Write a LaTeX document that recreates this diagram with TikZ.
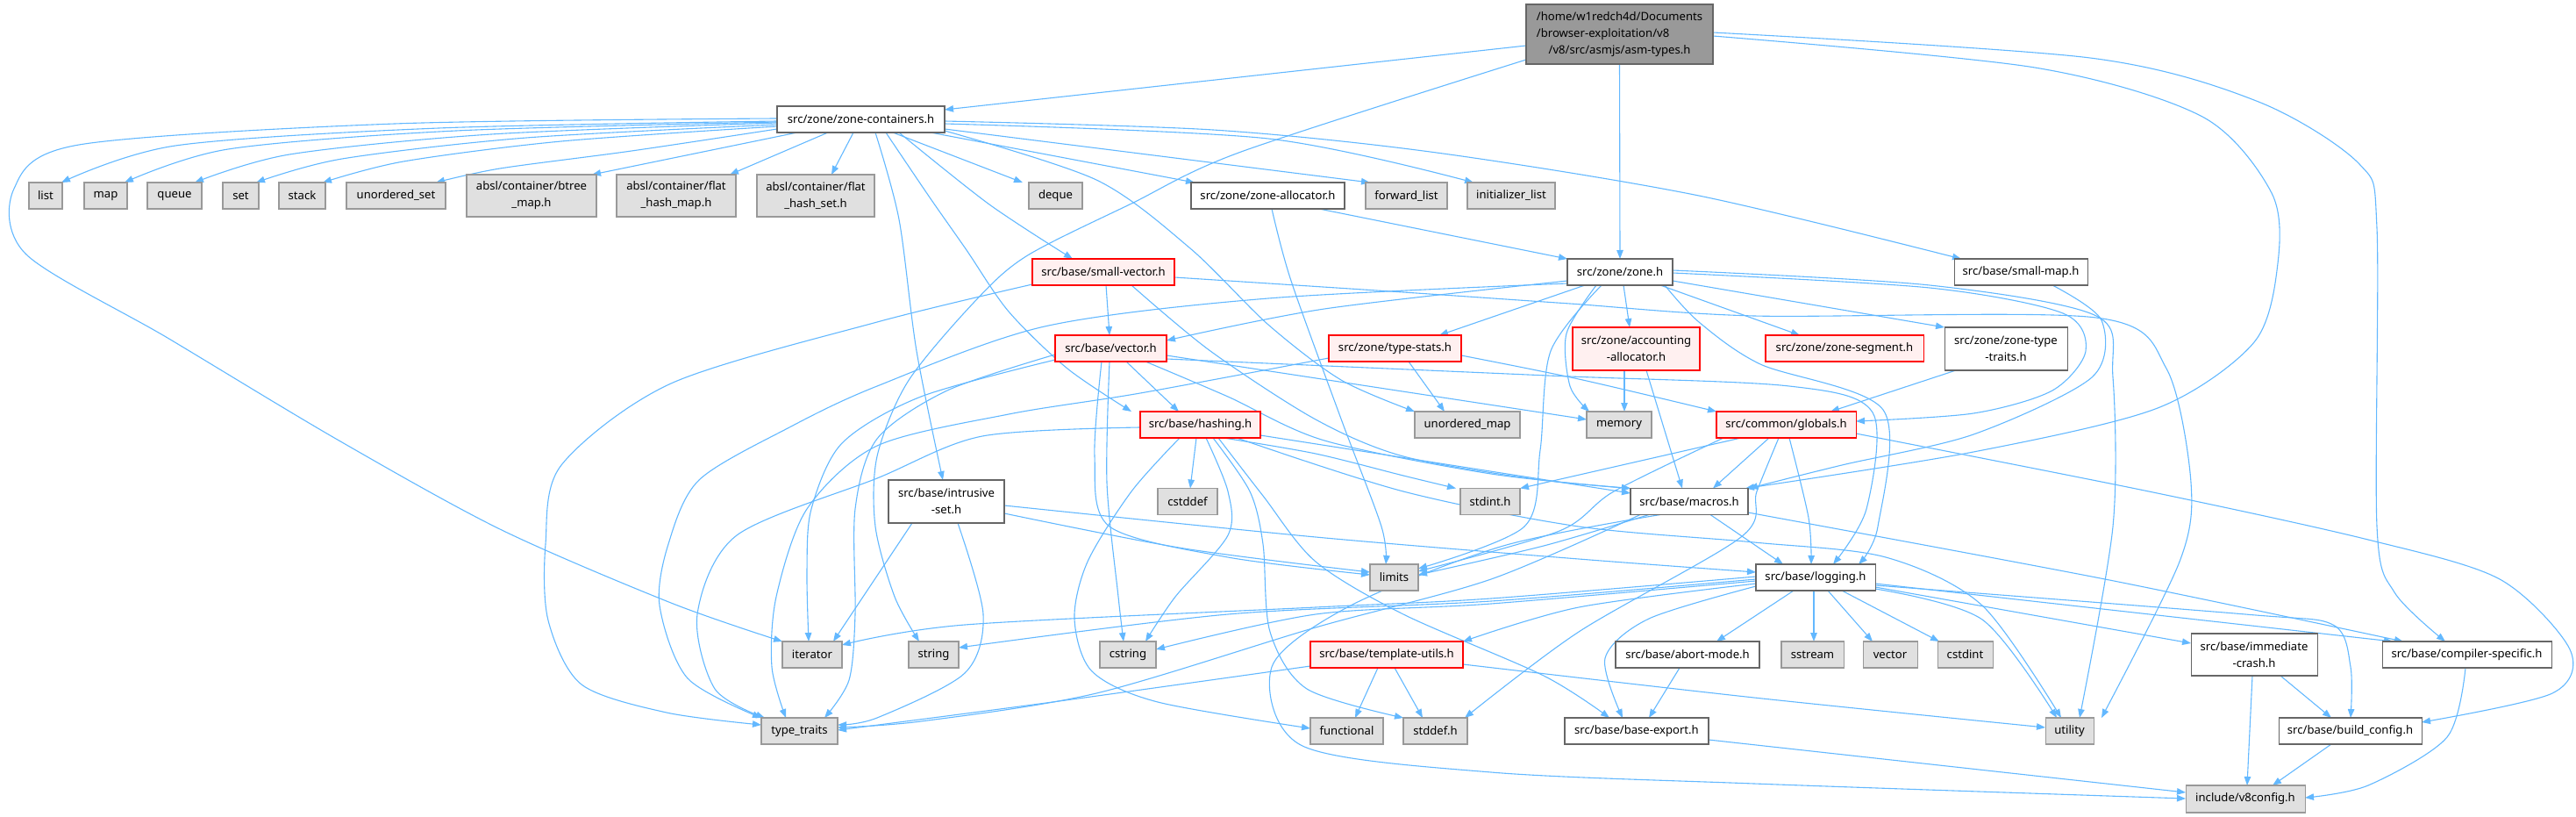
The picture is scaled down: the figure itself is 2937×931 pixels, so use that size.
\documentclass[tikz,border=0pt]{standalone}
\usepackage{fontspec}
\setmainfont{Noto Sans}
\usetikzlibrary{arrows.meta,backgrounds}
\definecolor{edgec}{HTML}{63B8FF}
\definecolor{bwhite}{HTML}{666666}
\definecolor{ggray}{HTML}{E0E0E0}
\definecolor{bgray}{HTML}{999999}
\definecolor{rootf}{HTML}{999999}
\definecolor{redf}{HTML}{FFF0F0}
\begin{document}
\begin{tikzpicture}[x=1pt,y=-1pt,
  box/.style={draw, line width=1.05pt, inner sep=0pt, outer sep=0pt, font=\fontsize{13.1}{19}\selectfont, align=center, text=black, minimum height=30pt},
  wn/.style={box, draw=bwhite, fill=white},
  gn/.style={box, draw=bgray, fill=ggray},
  rn/.style={box, draw=red, fill=redf},
  rootn/.style={box, draw=bwhite, fill=rootf},
  e/.style={draw=edgec, line width=1.1pt, -{Triangle[length=10pt,width=7.5pt]}}]
\useasboundingbox (0,0) rectangle (2937,931);

% ---------- nodes ----------
\node[rootn, minimum width=213pt, minimum height=68pt] (asm) at (1846.5,39) {\begin{tabular}{@{}l@{}}/home/w1redch4d/Documents\\/browser-exploitation/v8\\\multicolumn{1}{@{}c@{}}{/v8/src/asmjs/asm-types.h}\end{tabular}};
\node[wn, minimum width=191pt] (zc) at (981.5,136) {src/zone/zone-containers.h};
\node[gn, minimum width=38pt] (list) at (52,223) {list};
\node[gn, minimum width=49pt] (map) at (120.5,223) {map};
\node[gn, minimum width=62pt] (queue) at (199,223) {queue};
\node[gn, minimum width=41pt] (set) at (274.5,223) {set};
\node[gn, minimum width=53pt] (stack) at (344.5,223) {stack};
\node[gn, minimum width=113pt] (uset) at (451.5,223) {unordered\_set};
\node[gn, minimum width=148pt, minimum height=48pt] (btree) at (606,223) {absl/container/btree\\\_map.h};
\node[gn, minimum width=136pt, minimum height=48pt] (fhm) at (771,223) {absl/container/flat\\\_hash\_map.h};
\node[gn, minimum width=134pt, minimum height=48pt] (fhs) at (930,223) {absl/container/flat\\\_hash\_set.h};
\node[gn, minimum width=61pt] (deque) at (1203.5,223) {deque};
\node[wn, minimum width=175pt] (zalloc) at (1445.5,223) {src/zone/zone-allocator.h};
\node[gn, minimum width=93pt] (flist) at (1603.5,223) {forward\_list};
\node[gn, minimum width=100pt] (ilist) at (1723,223) {initializer\_list};
\node[rn, minimum width=162pt] (svec) at (1258,310) {src/base/small-vector.h};
\node[wn, minimum width=120pt] (zone) at (1847,310) {src/zone/zone.h};
\node[wn, minimum width=152pt] (smap) at (2304,310) {src/base/small-map.h};
\node[rn, minimum width=127pt] (vec) at (1266.5,397) {src/base/vector.h};
\node[rn, minimum width=151pt] (tstats) at (1590.5,397) {src/zone/type-stats.h};
\node[rn, minimum width=145pt, minimum height=49pt] (acc) at (1865.5,397.5) {src/zone/accounting\\-allocator.h};
\node[rn, minimum width=180pt] (zseg) at (2103,397) {src/zone/zone-segment.h};
\node[wn, minimum width=140pt, minimum height=49pt] (ztt) at (2287,397.5) {src/zone/zone-type\\-traits.h};
\node[rn, minimum width=137pt] (hash) at (1368.5,484) {src/base/hashing.h};
\node[gn, minimum width=120pt] (umap) at (1673,484) {unordered\_map};
\node[gn, minimum width=74pt] (mem) at (1846,484) {memory};
\node[rn, minimum width=159pt] (glob) at (2036.5,484) {src/common/globals.h};
\node[wn, minimum width=132pt, minimum height=49pt] (iset) at (1079,571.5) {src/base/intrusive\\-set.h};
\node[gn, minimum width=68pt] (cstddef) at (1354,571.5) {cstddef};
\node[gn, minimum width=68pt] (stdint) at (1699,571.5) {stdint.h};
\node[wn, minimum width=134pt] (macros) at (1926,571.5) {src/base/macros.h};
\node[gn, minimum width=55pt] (limits) at (1589.5,658) {limits};
\node[wn, minimum width=136pt] (logging) at (2070,658) {src/base/logging.h};
\node[gn, minimum width=68pt] (iter) at (926,746) {iterator};
\node[gn, minimum width=57pt] (string) at (1064.5,746) {string};
\node[gn, minimum width=64pt] (cstring) at (1286,746) {cstring};
\node[rn, minimum width=174pt] (tutils) at (1581,746) {src/base/template-utils.h};
\node[wn, minimum width=164pt] (abort) at (1924,746) {src/base/abort-mode.h};
\node[gn, minimum width=71pt] (sstream) at (2066.5,746) {sstream};
\node[gn, minimum width=62pt] (vector) at (2155,746) {vector};
\node[gn, minimum width=63pt] (cstdint) at (2240.5,746) {cstdint};
\node[wn, minimum width=144pt, minimum height=48pt] (icrash) at (2570,746) {src/base/immediate\\-crash.h};
\node[wn, minimum width=193pt] (cspec) at (2812.5,746) {src/base/compiler-specific.h};
\node[gn, minimum width=87pt] (ttraits) at (911.5,833) {type\_traits};
\node[gn, minimum width=83pt] (functional) at (1535.5,833) {functional};
\node[gn, minimum width=73pt] (stddef) at (1636.5,833) {stddef.h};
\node[wn, minimum width=164pt] (bexport) at (1866,833) {src/base/base-export.h};
\node[gn, minimum width=55pt] (utility) at (2359.5,833) {utility};
\node[wn, minimum width=163pt] (bconfig) at (2679.5,833) {src/base/build\_config.h};
\node[gn, minimum width=136pt, minimum height=31pt] (v8config) at (2560,910.5) {include/v8config.h};

% ---------- edges ----------
\begin{scope}[on background layer]
% asm-types
\draw[e] (asm.west |- 0,52) -- (zc.east |- 0,125);
\draw[e] (asm.south) -- (zone.north);
\draw[e] plot[smooth] coordinates {(asm.west |- 0,68) (1415,173) (1290,232) (1170,292) (1110,345) (1035,435) (1000,520) (998,600) (1020,680) (1048,0 |- string.north)};
\draw[e] plot[smooth] coordinates {(asm.east |- 0,41) (2320,77) (2511,133) (2590,220) (2597,300) (2570,390) (2460,465) (2250,515) (1990,0 |- macros.north)};
\draw[e] plot[smooth] coordinates {(asm.east |- 0,37) (2383,66) (2575,116) (2690,187) (2710,260) (2710,600) (2730,675) (2788,0 |- cspec.north)};
% zone-containers
\draw[e] plot[smooth] coordinates {(zc.west |- 0,138) (500,146) (200,166) (70,0 |- list.north)};
\draw[e] plot[smooth] coordinates {(zc.west |- 0,139) (520,149) (260,170) (142,0 |- map.north)};
\draw[e] plot[smooth] coordinates {(zc.west |- 0,140) (560,153) (330,176) (222,0 |- queue.north)};
\draw[e] plot[smooth] coordinates {(zc.west |- 0,142) (600,157) (390,181) (292,0 |- set.north)};
\draw[e] plot[smooth] coordinates {(zc.west |- 0,144) (640,161) (460,184) (368,0 |- stack.north)};
\draw[e] plot[smooth] coordinates {(zc.west |- 0,147) (720,172) (570,192) (497,0 |- uset.north)};
\draw[e] (909,0 |- zc.south) -- (675,0 |- btree.north);
\draw[e] (944,0 |- zc.south) -- (832,0 |- fhm.north);
\draw[e] (973,0 |- zc.south) -- (948,0 |- fhs.north);
\draw[e] plot[smooth] coordinates {(zc.west |- 0,135) (450,141) (90,165) (16,215) (30,290) (191,385) (383,500) (570,603) (765,687) (iter.north west)};
\draw[e] (1018,0 |- zc.south) -- (1166,0 |- deque.north);
\draw[e] (1061,0 |- zc.south) -- (1362,0 |- zalloc.north);
\draw[e] (zc.east |- 0,147) -- (1562,0 |- flist.north);
\draw[e] plot[smooth] coordinates {(zc.east |- 0,141) (1446,158) (1680,0 |- ilist.north)};
\draw[e] plot[smooth] coordinates {(zc.east |- 0,138) (1383,148) (1638,174) (1937,223) (2236,0 |- smap.north)};
\draw[e] plot[smooth] coordinates {(1025,0 |- zc.south) (1128,233) (1223,0 |- svec.north)};
\draw[e] plot[smooth] coordinates {(1010,0 |- zc.south) (1060,225) (1102,285) (1150,355) (1217,420) (1290,0 |- hash.north)};
\draw[e] plot[smooth] coordinates {(998,0 |- zc.south) (1025,250) (1045,400) (1075,0 |- iset.north)};
\draw[e] plot[smooth] coordinates {(zc.east |- 0,149) (1250,205) (1357,283) (1446,370) (1529,433) (1613,0 |- umap.north)};
% zone-allocator
\draw[e] (1504,0 |- zalloc.south) -- (zone.north west);
\draw[e] plot[smooth] coordinates {(1450,0 |- zalloc.south) (1472,320) (1530,480) (1575,600) (1580,0 |- limits.north)};
% small-map
\draw[e] plot[smooth] coordinates {(2340,0 |- smap.south) (2396,365) (2385,430) (2250,495) (2100,530) (1994,0 |- macros.north)};
% small-vector
\draw[e] (1261,0 |- svec.south) -- (1265,0 |- vec.north);
\draw[e] plot[smooth] coordinates {(1290,0 |- svec.south) (1380,400) (1500,478) (1600,520) (1750,546) (macros.north west)};
\draw[e] plot[smooth] coordinates {(svec.west |- 0,324) (1000,367) (765,437) (640,530) (622,620) (625,707) (663,780) (760,812) (ttraits.west |- 0,826)};
\draw[e] plot[smooth] coordinates {(svec.east |- 0,316) (1600,333) (1790,346) (2000,360) (2390,362) (2470,420) (2498,550) (2485,640) (2396,0 |- utility.north)};
% zone.h
\draw[e] plot[smooth] coordinates {(zone.west |- 0,320) (1510,352) (vec.east |- 0,388)};
\draw[e] (1807,0 |- zone.south) -- (1641,0 |- tstats.north);
\draw[e] (1851,0 |- zone.south) -- (1858,0 |- acc.north);
\draw[e] (1893,0 |- zone.south) -- (2052,0 |- zseg.north);
\draw[e] (zone.east |- 0,320) -- (ztt.north west);
\draw[e] plot[smooth] coordinates {(zone.east |- 0,311) (2200,328) (2352,357) (2378,400) (2340,445) (2250,471) (glob.east |- 0,480)};
\draw[e] plot[smooth] coordinates {(1820,0 |- zone.south) (1786,380) (1790,440) (1812,0 |- mem.north)};
\draw[e] plot[smooth] coordinates {(1826,0 |- zone.south) (1768,400) (1756,513) (1738,600) (limits.east |- 0,648)};
\draw[e] plot[smooth] coordinates {(zone.west |- 0,323) (1446,340) (1191,372) (1000,440) (900,487) (797,547) (762,620) (752,690) (784,773) (868,0 |- ttraits.north)};
\draw[e] plot[smooth] coordinates {(zone.east |- 0,308) (2200,325) (2390,360) (2409,430) (2409,600) (2371,0 |- utility.north)};
\draw[e] plot[smooth] coordinates {(1898,0 |- zone.south) (1937,367) (2007,415) (2147,467) (2141,600) (2119,0 |- logging.north)};
% vector.h
\draw[e] (1284,0 |- vec.south) -- (1344,0 |- hash.north);
\draw[e] (vec.east |- 0,405) -- (mem.west |- 0,478);
\draw[e] plot[smooth] coordinates {(1306,0 |- vec.south) (1400,452) (1510,502) (1700,540) (macros.north west)};
\draw[e] plot[smooth] coordinates {(vec.east |- 0,409) (1765,428) (2040,440) (2135,470) (2128,580) (2090,0 |- logging.north)};
\draw[e] plot[smooth] coordinates {(1265,0 |- vec.south) (1262,550) (1275,680) (1281,0 |- cstring.north)};
\draw[e] plot[smooth] coordinates {(1256,0 |- vec.south) (1248,520) (1265,600) (1400,635) (limits.west |- 0,655)};
\draw[e] plot[smooth] coordinates {(vec.west |- 0,410) (1050,452) (960,505) (925,580) (920,650) (922,0 |- iter.north)};
\draw[e] plot[smooth] coordinates {(vec.west |- 0,404) (1080,445) (1000,500) (975,580) (975,700) (968,775) (940,0 |- ttraits.north)};
% type-stats
\draw[e] (1606,0 |- tstats.south) -- (1647,0 |- umap.north);
\draw[e] plot[smooth] coordinates {(tstats.east |- 0,405) (1800,432) (glob.north west)};
\draw[e] plot[smooth] coordinates {(tstats.west |- 0,408) (1300,448) (1150,472) (1000,508) (920,580) (885,680) (880,760) (896,0 |- ttraits.north)};
% accounting-allocator
\draw[e] (1852,0 |- acc.south) -- (1852,0 |- mem.north);
\draw[e] (1877,0 |- acc.south) -- (1918,0 |- macros.north);
% zone-type-traits
\draw[e] (2230,0 |- ztt.south) -- (2087,0 |- glob.north);
% hashing.h
\draw[e] (1364,0 |- hash.south) -- (1357,0 |- cstddef.north);
\draw[e] plot[smooth] coordinates {(1395,0 |- hash.south) (1500,517) (1600,542) (1660,0 |- stdint.north)};
\draw[e] (hash.east |- 0,496) -- (macros.west |- 0,562);
\draw[e] plot[smooth] coordinates {(1345,0 |- hash.south) (1290,560) (1240,640) (1225,705) (1245,765) (1320,800) (functional.west |- 0,830)};
\draw[e] plot[smooth] coordinates {(1383,0 |- hash.south) (1425,560) (1440,620) (1448,720) (1490,785) (1600,0 |- stddef.north)};
\draw[e] plot[smooth] coordinates {(1375,0 |- hash.south) (1400,560) (1400,610) (1340,680) (1306,0 |- cstring.north)};
\draw[e] plot[smooth] coordinates {(1410,0 |- hash.south) (1600,560) (1800,600) (2000,618) (2150,635) (2260,690) (2350,0 |- utility.north)};
\draw[e] plot[smooth] coordinates {(hash.west |- 0,487) (1120,497) (1000,545) (840,610) (795,700) (815,785) (872,0 |- ttraits.north)};
\draw[e] plot[smooth] coordinates {(1389,0 |- hash.south) (1440,565) (1500,640) (1600,700) (1760,770) (1835,0 |- bexport.north)};
% intrusive-set
\draw[e] (1040,0 |- iset.south) -- (950,0 |- iter.north);
\draw[e] plot[smooth] coordinates {(1092,0 |- iset.south) (1121,700) (1100,767) (1000,818) (ttraits.east |- 0,826)};
\draw[e] plot[smooth] coordinates {(iset.east |- 0,585) (1350,625) (limits.west |- 0,652)};
\draw[e] plot[smooth] coordinates {(iset.east |- 0,576) (1500,612) (1800,637) (logging.west |- 0,652)};
% globals.h
\draw[e] (2017,0 |- glob.south) -- (1953,0 |- macros.north);
\draw[e] plot[smooth] coordinates {(2040,0 |- glob.south) (2062,590) (2065,0 |- logging.north)};
\draw[e] (1985,0 |- glob.south) -- (stdint.north east);
\draw[e] plot[smooth] coordinates {(1965,0 |- glob.south) (1840,560) (1778,605) (limits.east |- 0,651)};
\draw[e] plot[smooth] coordinates {(2028,0 |- glob.south) (2003,560) (1985,612) (1800,720) (1670,0 |- stddef.north)};
\draw[e] plot[smooth] coordinates {(glob.east |- 0,494) (2450,560) (2700,615) (2850,660) (2930,740) (2910,790) (bconfig.east |- 0,823)};
% macros.h
\draw[e] plot[smooth] coordinates {(1880,0 |- macros.south) (1760,622) (limits.east |- 0,655)};
\draw[e] plot[smooth] coordinates {(1870,0 |- macros.south) (1700,660) (1500,715) (1250,790) (1050,822) (ttraits.east |- 0,829)};
\draw[e] (1950,0 |- macros.south) -- (2033,0 |- logging.north);
\draw[e] plot[smooth] coordinates {(macros.east |- 0,584) (2400,660) (2740,0 |- cspec.north)};
\draw[e] plot[smooth] coordinates {(1893,0 |- macros.south) (1714,622) (1540,690) (1450,760) (1485,850) (1700,880) (2000,893) (v8config.west |- 0,910)};
% logging.h
\draw[e] (2045,0 |- logging.south) -- (1957,0 |- abort.north);
\draw[e] (2068,0 |- logging.south) -- (2068,0 |- sstream.north);
\draw[e] (2084,0 |- logging.south) -- (2135,0 |- vector.north);
\draw[e] (2100,0 |- logging.south) -- (2211,0 |- cstdint.north);
\draw[e] plot[smooth] coordinates {(logging.east |- 0,671) (2260,706) (2345,0 |- utility.north)};
\draw[e] (logging.east |- 0,669) -- (icrash.west |- 0,733);
\draw[e] (logging.east |- 0,665) -- (2728,0 |- cspec.north);
\draw[e] plot[smooth] coordinates {(logging.east |- 0,667) (2560,700) (2660,712) (2680,760) (2680,0 |- bconfig.north)};
\draw[e] plot[smooth] coordinates {(logging.west |- 0,668) (1880,705) (1830,750) (1850,0 |- bexport.north)};
\draw[e] plot[smooth] coordinates {(logging.west |- 0,665) (1800,692) (tutils.north east)};
\draw[e] plot[smooth] coordinates {(logging.west |- 0,662) (1700,688) (1500,700) (cstring.east |- 0,740)};
\draw[e] plot[smooth] coordinates {(logging.west |- 0,660) (1700,685) (1400,700) (string.east |- 0,738)};
\draw[e] plot[smooth] coordinates {(logging.west |- 0,657) (1700,682) (1500,692) (1100,712) (iter.east |- 0,735)};
% template-utils
\draw[e] (1571,0 |- tutils.south) -- (1545,0 |- functional.north);
\draw[e] (1590,0 |- tutils.south) -- (1622,0 |- stddef.north);
\draw[e] plot[smooth] coordinates {(tutils.west |- 0,759) (1200,800) (ttraits.east |- 0,832)};
\draw[e] plot[smooth] coordinates {(tutils.east |- 0,757) (2000,795) (utility.west |- 0,829)};
% others
\draw[e] (1915,0 |- abort.south) -- (1880,0 |- bexport.north);
\draw[e] (bexport.east |- 0,843) -- (v8config.west |- 0,903);
\draw[e] (2568,0 |- icrash.south) -- (2562,0 |- v8config.north);
\draw[e] (2600,0 |- icrash.south) -- (2658,0 |- bconfig.north);
\draw[e] plot[smooth] coordinates {(2811,0 |- cspec.south) (2790,840) (2700,895) (v8config.east |- 0,909)};
\draw[e] (2658,0 |- bconfig.south) -- (2591,0 |- v8config.north);
\end{scope}
\end{tikzpicture}
\end{document}
